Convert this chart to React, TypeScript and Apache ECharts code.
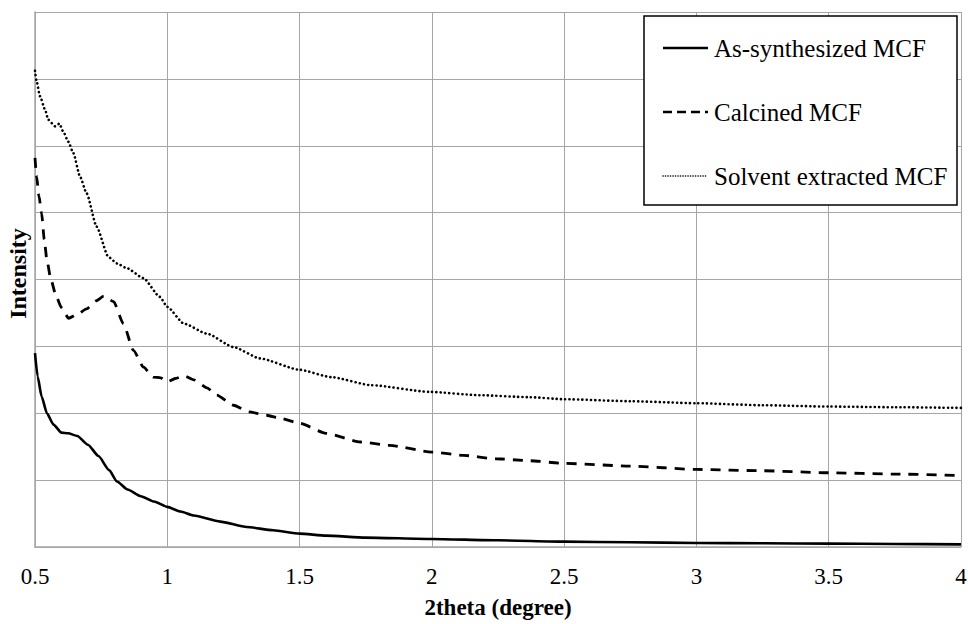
import React, { useEffect, useRef } from "react";
import * as echarts from "echarts";

// Small-angle XRD patterns of MCF samples: [2theta, intensity (a.u.)]
const asSynthesized: [number, number][] = [
  [0.5, 2.9], [0.51, 2.55], [0.525, 2.25], [0.545, 2.0], [0.57, 1.83], [0.6, 1.71],
  [0.625, 1.7], [0.66, 1.66], [0.7, 1.53], [0.74, 1.36], [0.78, 1.15], [0.81, 0.98],
  [0.85, 0.86], [0.9, 0.76], [0.95, 0.68], [1.0, 0.6], [1.05, 0.53], [1.1, 0.47],
  [1.2, 0.38], [1.3, 0.3], [1.4, 0.25], [1.5, 0.2], [1.6, 0.17], [1.75, 0.14],
  [2.0, 0.12], [2.25, 0.1], [2.5, 0.08], [2.75, 0.07], [3.0, 0.06], [3.25, 0.055],
  [3.5, 0.05], [3.75, 0.045], [4.0, 0.04],
];

const calcined: [number, number][] = [
  [0.5, 5.82], [0.506, 5.54], [0.515, 5.25], [0.525, 4.99], [0.535, 4.6], [0.545, 4.29],
  [0.56, 4.0], [0.58, 3.75], [0.6, 3.58], [0.627, 3.42], [0.66, 3.48], [0.695, 3.56],
  [0.73, 3.68], [0.76, 3.75], [0.797, 3.67], [0.834, 3.34], [0.872, 2.94], [0.91, 2.69],
  [0.947, 2.54], [0.975, 2.53], [1.0, 2.47], [1.03, 2.52], [1.063, 2.56], [1.1, 2.5],
  [1.15, 2.38], [1.187, 2.27], [1.25, 2.12], [1.31, 2.02], [1.375, 1.97], [1.43, 1.92],
  [1.5, 1.85], [1.6, 1.7], [1.73, 1.57], [1.84, 1.52], [2.0, 1.42], [2.12, 1.37],
  [2.24, 1.32], [2.37, 1.29], [2.5, 1.25], [2.75, 1.21], [3.0, 1.16], [3.25, 1.14],
  [3.5, 1.11], [3.75, 1.09], [4.0, 1.07],
];

const solventExtracted: [number, number][] = [
  [0.5, 7.12], [0.505, 6.98], [0.519, 6.74], [0.538, 6.54], [0.55, 6.39], [0.576, 6.29],
  [0.592, 6.33], [0.607, 6.21], [0.626, 6.06], [0.645, 5.89], [0.67, 5.54], [0.695, 5.29],
  [0.733, 4.79], [0.777, 4.34], [0.81, 4.24], [0.847, 4.17], [0.91, 4.02], [0.972, 3.74],
  [1.0, 3.59], [1.063, 3.34], [1.15, 3.19], [1.25, 2.99], [1.35, 2.82], [1.5, 2.65],
  [1.62, 2.54], [1.77, 2.42], [1.99, 2.32], [2.18, 2.27], [2.37, 2.24], [2.5, 2.21],
  [2.75, 2.18], [3.0, 2.15], [3.25, 2.12], [3.5, 2.1], [3.75, 2.09], [4.0, 2.08],
];

const seriesNames = ["As-synthesized MCF", "Calcined MCF", "Solvent extracted MCF"];

const FONT = "Liberation Serif";
const GRID_COLOR = "#a6a6a6";

const legendDash: (number[] | null)[] = [null, [9, 5], [0.1, 2.4]];
const legendWidth = [2.5, 2.5, 1.6];

export default function App() {
  const ref = useRef<HTMLDivElement>(null);

  useEffect(() => {
    if (!ref.current) return;
    const chart = echarts.init(ref.current, undefined, { renderer: "svg" });
    const lineSeries = (
      name: string,
      data: [number, number][],
      type: any,
      width: number,
      cap: string
    ) => ({
      name,
      type: "line",
      data,
      symbol: "none",
      smooth: 0.2,
      smoothMonotone: "x",
      lineStyle: { color: "#000", width, type, cap },
      itemStyle: { color: "#000" },
    });

    // Boxed legend drawn as graphic elements
    const legendElements: any[] = [
      {
        type: "rect",
        z: 100,
        shape: { x: 644, y: 16, width: 313, height: 189 },
        style: { fill: "#fff", stroke: "#000", lineWidth: 1.5 },
      },
    ];
    seriesNames.forEach((name, i) => {
      const cy = 48 + i * 64;
      const lineStyle: any = {
        stroke: "#000",
        lineWidth: legendWidth[i],
        lineCap: i === 2 ? "round" : "butt",
      };
      if (legendDash[i]) lineStyle.lineDash = legendDash[i];
      legendElements.push({
        type: "line",
        z: 101,
        shape: { x1: 663, y1: cy, x2: 708, y2: cy },
        style: lineStyle,
      });
      legendElements.push({
        type: "text",
        z: 101,
        x: 714,
        y: cy,
        style: {
          text: name,
          fontFamily: FONT,
          fontSize: 25,
          fill: "#000",
          verticalAlign: "middle",
        },
      });
    });

    chart.setOption({
      animation: false,
      backgroundColor: "#fff",
      textStyle: { fontFamily: FONT, color: "#000" },
      grid: { left: 35, right: 7, top: 12, bottom: 77, outerBoundsMode: "none", containLabel: false },
      graphic: legendElements,
      xAxis: {
        type: "value",
        min: 0.5,
        max: 4,
        interval: 0.5,
        name: "2theta (degree)",
        nameLocation: "middle",
        nameGap: 49,
        nameTextStyle: { fontFamily: FONT, fontSize: 23, fontWeight: "bold", color: "#000" },
        axisLine: { show: true, lineStyle: { color: GRID_COLOR, width: 1.5 } },
        axisTick: { show: false },
        axisLabel: {
          fontFamily: FONT,
          fontSize: 23,
          color: "#000",
          margin: 18,
          formatter: (v: number) => String(v),
        },
        splitLine: { show: true, lineStyle: { color: GRID_COLOR, width: 1 } },
      },
      yAxis: {
        type: "value",
        min: 0,
        max: 8,
        interval: 1,
        name: "Intensity",
        nameLocation: "middle",
        nameGap: 5,
        nameTextStyle: {
          fontFamily: FONT,
          fontSize: 24,
          fontWeight: "bold",
          color: "#000",
          padding: [0, 0, 0, 12],
        },
        axisLine: { show: true, lineStyle: { color: GRID_COLOR, width: 1.5 } },
        axisTick: { show: false },
        axisLabel: { show: false },
        splitLine: { show: true, lineStyle: { color: GRID_COLOR, width: 1 } },
      },
      series: [
        lineSeries(seriesNames[0], asSynthesized, "solid", 2.6, "butt"),
        lineSeries(seriesNames[1], calcined, [10, 8], 2.8, "butt"),
        lineSeries(seriesNames[2], solventExtracted, [0.1, 4.2], 2.6, "round"),
      ],
    });
    return () => chart.dispose();
  }, []);

  return (
    <div
      ref={ref}
      style={{ position: "fixed", left: 0, top: 0, width: 968, height: 624, background: "#fff" }}
    />
  );
}
